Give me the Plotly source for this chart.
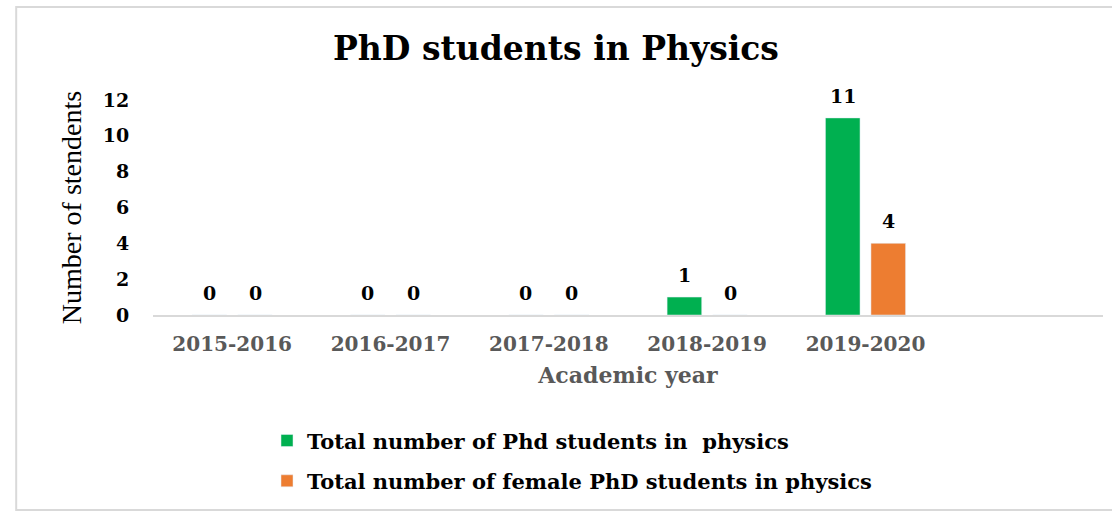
import plotly.graph_objects as go

years = ['2015-2016', '2016-2017', '2017-2018', '2018-2019', '2019-2020']
total_phd = [0, 0, 0, 1, 11]
female_phd = [0, 0, 0, 0, 4]
y_ticks = [0, 2, 4, 6, 8, 10, 12]

serif_bold = 'DejaVu Serif'
label_font = dict(family=serif_bold, size=19, color='black', weight='bold')

fig = go.Figure()
fig.add_trace(go.Bar(
    x=years, y=total_phd, name='Total number of Phd students in  physics',
    marker_color='#00B050', legendgroup='a'))
fig.add_trace(go.Bar(
    x=years, y=female_phd, name='Total number of female PhD students in physics',
    marker_color='#ED7D31', legendgroup='b'))

# value labels sit a little higher above the bars than plotly's own outside text
for series, shift in [(total_phd, -23), (female_phd, 23)]:
    for yr, val in zip(years, series):
        fig.add_annotation(x=yr, y=val, text=str(val), showarrow=False,
                           xshift=shift, yshift=9, yanchor='bottom',
                           font=label_font)

# light grey frame round the whole chart
fig.add_shape(type='rect', xref='paper', yref='paper',
              x0=-0.144, x1=1.03, y0=-0.907, y1=1.433,
              line=dict(color='#d9d9d9', width=2), layer='below')

fig.update_layout(
    width=1112, height=512,
    margin=dict(l=153, r=9, t=100, b=197),
    paper_bgcolor='white', plot_bgcolor='white',
    barmode='group', bargap=0.425, bargroupgap=0.24,
    title=dict(text='<b>PhD students in Physics</b>', x=0.5, xanchor='center',
               y=0.906, yanchor='middle',
               font=dict(family=serif_bold, size=33, color='black')),
    xaxis=dict(
        type='category', range=[-0.5, 5.5],
        showline=True, linecolor='#d9d9d9', linewidth=2,
        showgrid=False, ticks='outside', ticklen=10, tickcolor='rgba(0,0,0,0)',
        tickfont=dict(family=serif_bold, size=20, color='#595959', weight='bold'),
        title=dict(text='Academic year', standoff=13,
                   font=dict(family=serif_bold, size=22, color='#595959', weight='bold')),
    ),
    yaxis=dict(
        range=[0, 12], tickvals=y_ticks,
        showline=False, showgrid=False, zeroline=False,
        ticks='outside', ticklen=19, tickcolor='rgba(0,0,0,0)',
        tickfont=dict(family=serif_bold, size=19, color='black', weight='bold'),
        title=dict(text='Number of stendents', standoff=12,
                   font=dict(family='Liberation Serif', size=28, color='black')),
    ),
    showlegend=True,
    legend=dict(x=0.12, xanchor='left', y=-0.49, yanchor='top',
                orientation='v', tracegroupgap=10, traceorder='grouped',
                font=dict(family=serif_bold, size=21, color='black', weight='bold'),
                bgcolor='rgba(0,0,0,0)'),
)

fig.write_html("out.html", config={'displayModeBar': False},
               post_script="document.body.style.margin='0';")
